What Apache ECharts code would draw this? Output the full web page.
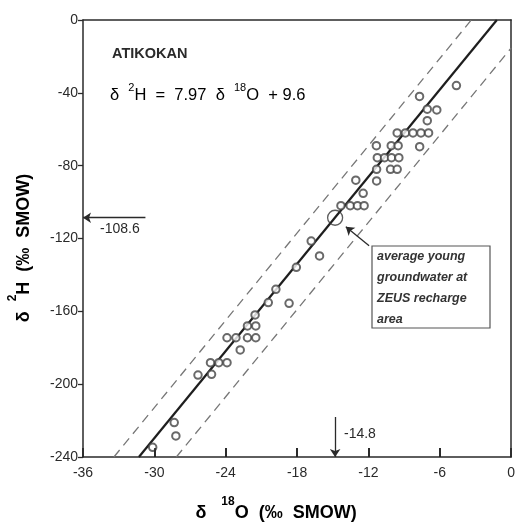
<!DOCTYPE html>
<html><head><meta charset="utf-8">
<script src="https://cdn.jsdelivr.net/npm/echarts@6/dist/echarts.min.js"></script>
<style>html,body{margin:0;padding:0;background:#fff}#c{width:518px;height:523px}</style>
</head><body><div id="c"></div>
<script>
// Sample points (δ18O, δ2H)
const samplesX = [-4.6,-7.7,-7.05,-6.25,-7.05,
  -9.58,-8.89,-8.25,-7.58,-6.94,
  -11.33,-10.08,-9.5,-7.69,
  -11.25,-10.64,-10.06,-9.44,
  -11.31,-10.14,-9.58,
  -13.06,-11.31,-12.44,
  -14.31,-13.53,-12.92,-12.36,
  -16.81,-16.11,-18.06,-19.78,-20.42,-18.67,-21.53,-22.17,-21.47,
  -23.89,-23.14,-22.17,-21.47,-22.78,
  -25.28,-24.58,-23.89,-26.33,-25.19,-28.33,-28.19,-30.14];
const samplesY = [-36,-42,-49,-49.4,-55.3,
  -62,-62,-62,-62,-62,
  -69,-69,-69,-69.6,
  -75.6,-75.6,-75.6,-75.6,
  -82,-82,-82,
  -88,-88.4,-95.2,
  -102,-102,-102,-102,
  -121.4,-129.6,-135.8,-147.9,-155.2,-155.6,-162,-168,-168,
  -174.5,-174.5,-174.5,-174.5,-181.2,
  -188.2,-188.2,-188.2,-195,-194.6,-221.1,-228.4,-234.7];
// Lines (endpoints)
const meteoricLine = [[-31.3,-240],[-1.2,0]];
const upperBand = [[-33.4,-240],[-3.35,0]];
const lowerBand = [[-28.15,-240],[0,-15.4]];
// Average young groundwater at ZEUS recharge area
const avgPoint = [-14.8,-108.6];
const xTicks = {min:-36,max:0,interval:6};
const yTicks = {min:-240,max:0,interval:40};
const xTickValues = [-30,-24,-18,-12,-6];

const samples = samplesX.map((x,i)=>[x,samplesY[i]]);
const ink = '#2a2a2a';
const font = 'Liberation Sans, DejaVu Sans, sans-serif';
const frameAxisX = {type:'value',min:xTicks.min,max:xTicks.max,position:'top',
  axisLine:{show:true,onZero:false,lineStyle:{color:ink,width:1.5}},
  axisTick:{show:false},axisLabel:{show:false},splitLine:{show:false}};
const frameAxisY = {type:'value',min:yTicks.min,max:yTicks.max,position:'right',
  axisLine:{show:true,onZero:false,lineStyle:{color:ink,width:1.5}},
  axisTick:{show:false},axisLabel:{show:false},splitLine:{show:false}};

const chart = echarts.init(document.getElementById('c'), null, {renderer:'canvas'});
chart.setOption({
  backgroundColor:'#fff',
  animation:false,
  grid:{left:83,right:4,top:20,bottom:66,show:false},
  xAxis:[{type:'value',min:xTicks.min,max:xTicks.max,interval:xTicks.interval,position:'bottom',
    axisLine:{show:true,onZero:false,lineStyle:{color:ink,width:1.5}},
    axisTick:{show:true,inside:true,length:9,lineStyle:{color:'#222',width:1.6}},
    axisLabel:{color:ink,fontSize:14,fontFamily:font,margin:9},
    splitLine:{show:false}}, frameAxisX],
  yAxis:[{type:'value',min:yTicks.min,max:yTicks.max,interval:yTicks.interval,position:'left',
    axisLine:{show:true,onZero:false,lineStyle:{color:ink,width:1.5}},
    axisTick:{show:true,inside:false,length:5,lineStyle:{color:ink,width:1.3}},
    axisLabel:{color:ink,fontSize:14,fontFamily:font,margin:5},
    splitLine:{show:false}}, frameAxisY],
  series:[
    {type:'line',data:upperBand,symbol:'none',lineStyle:{color:'#777',width:1.3,type:[9,6]},z:1},
    {type:'line',data:lowerBand,symbol:'none',lineStyle:{color:'#777',width:1.3,type:[9,6]},z:1},
    {type:'line',data:meteoricLine,symbol:'none',lineStyle:{color:'#1e1e1e',width:2.2},z:2},
    {type:'scatter',data:samples,symbol:'emptyCircle',symbolSize:7.5,
      itemStyle:{color:'#444',borderColor:'#444',borderWidth:1.3},z:3},
    {type:'scatter',data:[avgPoint],symbol:'circle',symbolSize:15,
      itemStyle:{color:'rgba(255,255,255,0)',borderColor:'#333',borderWidth:1.3},z:3},
    {type:'lines',coordinateSystem:'cartesian2d',polyline:false,z:4,
      symbol:['none','arrow'],symbolSize:8,
      lineStyle:{color:ink,width:1.3,opacity:1},
      data:[
        {coords:[[-30.75,avgPoint[1]],[-36,avgPoint[1]]]},
        {coords:[[avgPoint[0],-218],[avgPoint[0],-240]]},
        {coords:[[-11.94,-124],[-13.9,-113.6]]}
      ]},
    {type:'lines',coordinateSystem:'cartesian2d',polyline:false,z:4,symbol:['none','none'],
      lineStyle:{color:'#222',width:1.6,opacity:1},
      data:xTickValues.map(v=>({coords:[[v,yTicks.min],[v,yTicks.min+5]]}))}
  ],
  graphic:[
    {type:'text',left:112,top:46,style:{text:'ATIKOKAN',font:'bold 14.5px '+font,fill:ink}},
    {type:'text',left:110,top:82,style:{
      text:'{m|δ  }{s|2}{m|H  =  7.97  δ  }{s|18}{m|O  + 9.6}',
      rich:{m:{fontSize:16.5,fontFamily:font,color:ink,verticalAlign:'bottom',lineHeight:22},
            s:{fontSize:11,fontFamily:font,color:ink,verticalAlign:'top',lineHeight:20}}}},
    {type:'text',left:100,top:222,style:{text:'-108.6',font:'14px '+font,fill:ink}},
    {type:'text',left:344,top:427,style:{text:'-14.8',font:'14px '+font,fill:ink}},
    {type:'rect',shape:{x:372,y:246,width:118,height:82},style:{fill:'#fff',stroke:'#555',lineWidth:1.2},z:5},
    {type:'text',left:377,top:246,z:6,style:{text:'average young\ngroundwater at\nZEUS recharge\narea',
      font:'italic bold 12.5px '+font,fill:'#333',lineHeight:21}},
    {type:'text',x:276,y:509,style:{
      text:'{m|δ   }{s|18}{m|O  (‰  SMOW)}',align:'center',verticalAlign:'middle',
      rich:{m:{fontSize:18,fontFamily:font,color:ink,fontWeight:'bold',verticalAlign:'bottom',lineHeight:26},
            s:{fontSize:12,fontFamily:font,color:ink,fontWeight:'bold',verticalAlign:'top',lineHeight:22}}}},
    {type:'text',x:20,y:248,rotation:Math.PI/2,style:{
      text:'{m|δ  }{s|2}{m|H  (‰  SMOW)}',align:'center',verticalAlign:'middle',
      rich:{m:{fontSize:18,fontFamily:font,color:ink,fontWeight:'bold',verticalAlign:'bottom',lineHeight:26},
            s:{fontSize:12,fontFamily:font,color:ink,fontWeight:'bold',verticalAlign:'top',lineHeight:22}}}}
  ]
});
</script></body></html>
